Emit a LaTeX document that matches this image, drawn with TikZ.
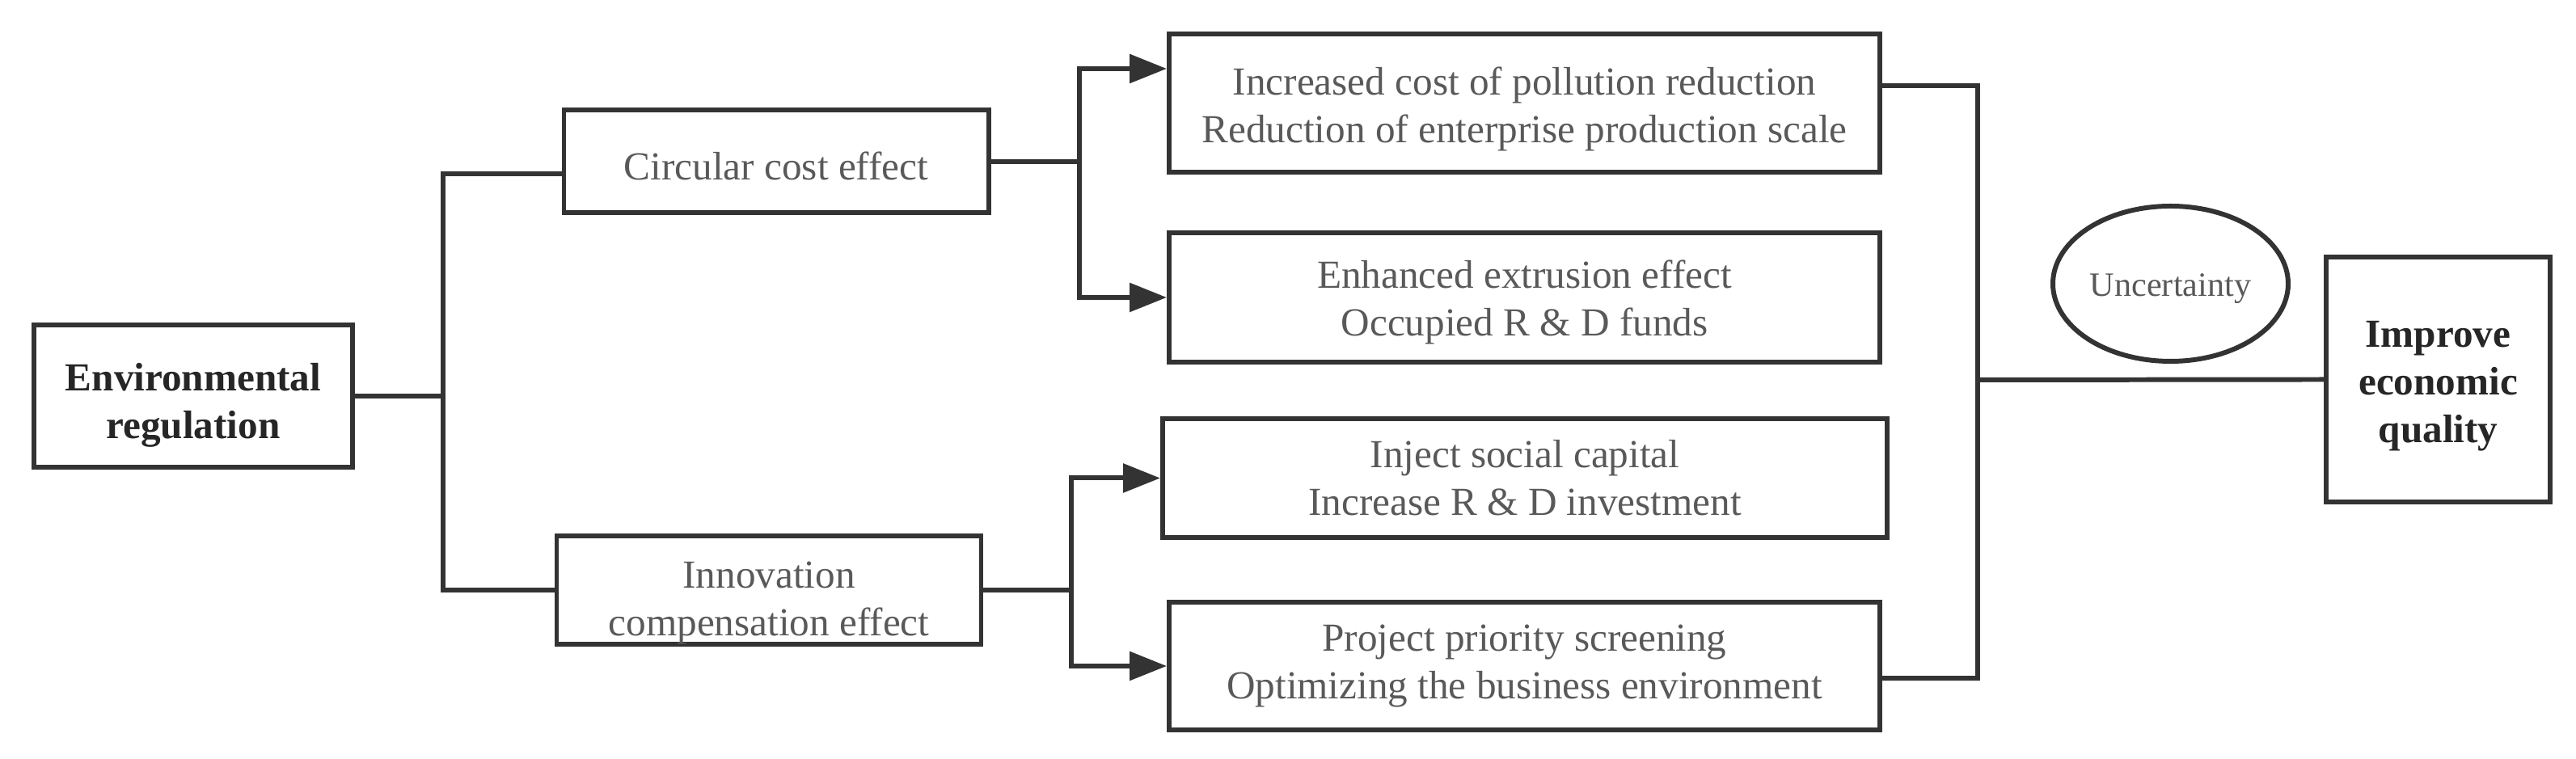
\documentclass[tikz,border=0pt]{standalone}
\usepackage{fontspec}
\setmainfont{Liberation Serif}
\usepackage{tikz}
\usetikzlibrary{calc,arrows.meta,shapes.geometric}
\definecolor{edge}{HTML}{333333}
\definecolor{txt}{HTML}{595959}
\definecolor{txtb}{HTML}{262626}
% raise the first line's height, which pushes the text block down
\newcommand{\padtop}[1]{\rule{0pt}{#1}}
\tikzset{
  box/.style={draw=edge, line width=1.7pt, inner sep=0pt, align=center, text=txt, font=\fontsize{14}{16.8}\selectfont},
  boldbox/.style={box, text=txtb, font=\fontsize{14}{16.8}\selectfont\bfseries},
  link/.style={draw=edge, line width=1.7pt},
  arrow/.style={link, -{Triangle[length=0.46cm, width=0.35cm]}},
  oval/.style={draw=edge, line width=1.7pt, ellipse, inner sep=0pt, text=txt, font=\fontsize{12}{14}\selectfont},
}

\begin{document}
\begin{tikzpicture}
  \useasboundingbox (0,0) rectangle (31.86,9.39);

  % left part
  \node[boldbox, minimum width=3.94cm, minimum height=1.76cm] (env) at (2.39,4.49) {\padtop{5.6mm}Environmental\\regulation};
  \node[box, minimum width=5.25cm, minimum height=1.27cm] (circ) at (9.60,7.39) {\padtop{4.6mm}Circular cost effect};
  \node[box, minimum width=5.25cm, minimum height=1.27cm] (innov) at (9.51,2.09) {\padtop{6.4mm}Innovation\\compensation effect};

  % effects
  \node[box, minimum width=8.79cm, minimum height=1.71cm] (cost) at (18.855,8.115) {\padtop{5.0mm}Increased cost of pollution reduction\\Reduction of enterprise production scale};
  \node[box, minimum width=8.79cm, minimum height=1.60cm] (extr) at (18.855,5.71) {\padtop{4.6mm}Enhanced extrusion effect\\Occupied R \& D funds};
  \node[box, minimum width=8.96cm, minimum height=1.47cm] (capital) at (18.86,3.475) {Inject social capital\\Increase R \& D investment};
  \node[box, minimum width=8.79cm, minimum height=1.58cm] (screen) at (18.855,1.15) {Project priority screening\\Optimizing the business environment};

  % right part
  \node[boldbox, minimum width=2.77cm, minimum height=3.03cm] (improve) at (30.155,4.695) {\padtop{4.8mm}Improve\\economic\\quality};
  \node[oval, minimum width=2.91cm, minimum height=1.92cm] (uncert) at (26.845,5.88) {\padtop{4.1mm}Uncertainty};

  % connectors
  \coordinate (j1) at (5.48,4.49);
  \draw[link] (env.east) -- (j1);
  \draw[link] (j1) |- ($(circ.west)+(0,-0.15)$);
  \draw[link] (j1) |- (innov.west);

  \coordinate (j2) at (13.35,7.39);
  \draw[link] (circ.east) -- (j2);
  \draw[arrow] (j2) |- ($(cost.west)+(0,0.425)$);
  \draw[arrow] (j2) |- (extr.west);

  \coordinate (j3) at (13.25,2.09);
  \draw[link] (innov.east) -- (j3);
  \draw[arrow] (j3) |- (capital.west);
  \draw[arrow] (j3) |- (screen.west);

  \coordinate (j4) at (24.46,4.69);
  \draw[link] ($(cost.east)+(0,0.215)$) -| (j4);
  \draw[link] ($(screen.east)+(0,-0.15)$) -| (j4);
  \draw[link] (j4) -- (improve.west);
\end{tikzpicture}
\end{document}
